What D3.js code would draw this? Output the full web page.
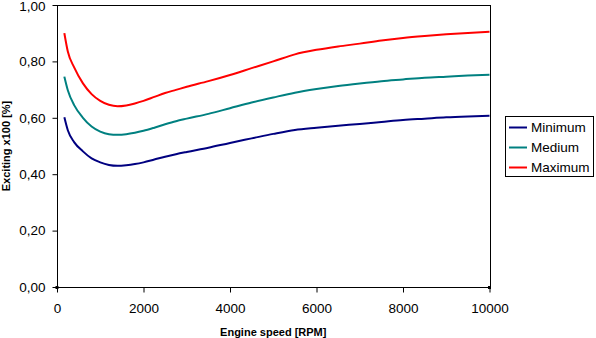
<!DOCTYPE html>
<html>
<head>
<meta charset="utf-8">
<script src="https://cdn.jsdelivr.net/npm/d3@7"></script>
<style>
  html, body { margin: 0; padding: 0; background: #fff; }
  svg { display: block; font-family: "Liberation Sans", Arial, sans-serif; }
</style>
</head>
<body>
<svg id="chart" width="596" height="338"></svg>
<script>
const rpm = [170, 250, 400, 600, 800, 1000, 1200, 1400, 1600, 1800, 2000, 2250, 2500, 2750, 3000, 3500, 4000, 4500, 5000, 5500, 6000, 6500, 7000, 7500, 8000, 8500, 9000, 9500, 10000];
const minimum = [0.602, 0.556, 0.513, 0.481, 0.456, 0.442, 0.433, 0.430, 0.432, 0.436, 0.442, 0.452, 0.462, 0.471, 0.479, 0.494, 0.511, 0.527, 0.543, 0.557, 0.565, 0.572, 0.578, 0.585, 0.592, 0.597, 0.602, 0.605, 0.607];
const medium = [0.746, 0.698, 0.644, 0.600, 0.569, 0.551, 0.542, 0.540, 0.542, 0.547, 0.554, 0.565, 0.577, 0.588, 0.597, 0.614, 0.634, 0.654, 0.672, 0.689, 0.702, 0.713, 0.722, 0.730, 0.736, 0.742, 0.746, 0.750, 0.753];
const maximum = [0.900, 0.835, 0.778, 0.722, 0.684, 0.660, 0.646, 0.641, 0.644, 0.651, 0.660, 0.674, 0.688, 0.699, 0.710, 0.730, 0.752, 0.776, 0.800, 0.825, 0.841, 0.853, 0.863, 0.874, 0.883, 0.890, 0.896, 0.901, 0.905];
const seriesNames = ["Minimum", "Medium", "Maximum"];
const seriesColors = ["#000080", "#008080", "#FF0000"];
const xTicks = [0, 2000, 4000, 6000, 8000, 10000];
const yTicks = [0, 0.2, 0.4, 0.6, 0.8, 1.0];
const xTitle = "Engine speed [RPM]";
const yTitle = "Exciting x100 [%]";

const svg = d3.select("#chart");
const L = 57, R = 489.5, T = 5, B = 287;
const x = d3.scaleLinear().domain([0, 10000]).range([L, R]);
const y = d3.scaleLinear().domain([0, 1]).range([B, T]);

const series = [minimum, medium, maximum].map((vals, i) => ({
  name: seriesNames[i], color: seriesColors[i],
  pts: rpm.map((r, j) => [r, vals[j]])
}));

// frame (top and right)
const g = svg.append("g").attr("shape-rendering", "crispEdges");
g.append("line").attr("x1", L).attr("x2", R).attr("y1", T + 0.5).attr("y2", T + 0.5).attr("stroke", "#000");
g.append("line").attr("x1", R + 0.5).attr("x2", R + 0.5).attr("y1", T).attr("y2", B).attr("stroke", "#000");

// y axis
const yAxis = d3.axisLeft(y).tickValues(yTicks).tickSize(5).tickPadding(7)
  .tickFormat(d => d3.format(".2f")(d).replace(".", ","));
const ya = svg.append("g").attr("transform", `translate(${L + 0.5},0)`).call(yAxis);
ya.select(".domain").attr("stroke", "#000").attr("d", `M-0,${T}V${B}`);
ya.selectAll(".tick line").attr("stroke", "#000");
ya.selectAll("text").attr("font-size", "13.5px").attr("fill", "#000")
  .attr("font-family", "Liberation Sans, Arial, sans-serif");
ya.selectAll(".tick").filter(d => d === 1).select("text").attr("dy", "0.42em");

// x axis
const xAxis = d3.axisBottom(x).tickValues(xTicks).tickSize(5).tickPadding(11)
  .tickFormat(d3.format("d"));
const xa = svg.append("g").attr("transform", `translate(0,${B + 0.5})`).call(xAxis);
xa.select(".domain").attr("stroke", "#000").attr("d", `M${L},0H${R}`);
xa.selectAll(".tick line").attr("stroke", "#000");
xa.selectAll("text").attr("font-size", "13.5px").attr("fill", "#000")
  .attr("font-family", "Liberation Sans, Arial, sans-serif");

// small end markers at axis corners
[0, 10000].forEach(v => {
  svg.append("rect").attr("x", x(v) - 1.5).attr("y", B - 1).attr("width", 3).attr("height", 3).attr("fill", "#000");
});

// lines
const line = d3.line().x(d => x(d[0])).y(d => y(d[1])).curve(d3.curveMonotoneX);
svg.append("g").selectAll("path").data(series).join("path")
  .attr("d", d => line(d.pts))
  .attr("fill", "none")
  .attr("stroke", d => d.color)
  .attr("stroke-width", 2);

// titles
svg.append("text").attr("x", (L + R) / 2).attr("y", 336).attr("text-anchor", "middle")
  .attr("font-size", "11px").attr("font-weight", "bold").text(xTitle);
svg.append("text").attr("transform", `translate(10,${(T + B) / 2}) rotate(-90)`)
  .attr("text-anchor", "middle").attr("font-size", "11px").attr("font-weight", "bold").text(yTitle);

// legend
const lg = svg.append("g");
lg.append("rect").attr("x", 505.5).attr("y", 116.5).attr("width", 88).attr("height", 60)
  .attr("fill", "#fff").attr("stroke", "#000").attr("shape-rendering", "crispEdges");
series.forEach((s, i) => {
  const cy = 127.5 + i * 20;
  lg.append("line").attr("x1", 509).attr("x2", 527).attr("y1", cy).attr("y2", cy)
    .attr("stroke", s.color).attr("stroke-width", 2);
  lg.append("text").attr("x", 531).attr("y", cy).attr("dy", "0.36em")
    .attr("font-size", "13.5px").attr("fill", "#000").text(s.name);
});
</script>
</body>
</html>
